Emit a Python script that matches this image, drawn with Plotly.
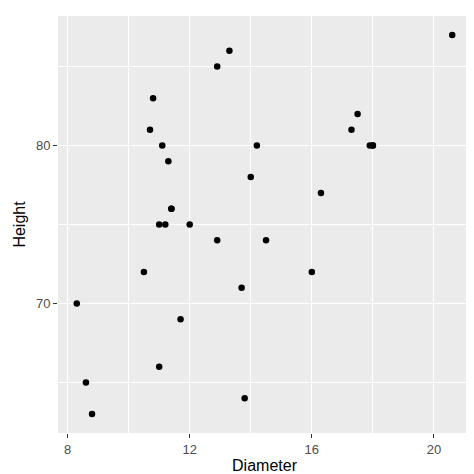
import plotly.graph_objects as go

diameter = [8.3, 8.6, 8.8, 10.5, 10.7, 10.8, 11.0, 11.0, 11.1, 11.2, 11.3, 11.4, 11.4, 11.7, 12.0, 12.9,
            12.9, 13.3, 13.7, 13.8, 14.0, 14.2, 14.5, 16.0, 16.3, 17.3, 17.5, 17.9, 18.0, 18.0, 20.6]
height = [70, 65, 63, 72, 81, 83, 66, 75, 80, 75, 79, 76, 76, 69, 75, 74,
          85, 86, 71, 64, 78, 80, 74, 72, 77, 81, 82, 80, 80, 80, 87]

fig = go.Figure(go.Scatter(x=diameter, y=height, mode="markers",
                           marker=dict(color="black", size=6.5), showlegend=False))

ax = dict(showline=False, zeroline=False, ticks="outside", ticklen=4, tickcolor="#333333",
          gridcolor="white", gridwidth=1.1, automargin=False,
          tickfont=dict(family="Liberation Sans, Arial", size=13, color="#4d4d4d"),
          title_font=dict(family="Liberation Sans, Arial", size=16, color="black"),
          minor=dict(showgrid=True, gridcolor="white", gridwidth=0.5))
fig.update_xaxes(ax, range=[7.685, 21.215], tickvals=[8, 12, 16, 20], minor_dtick=2,
                 title_text="Diameter", title_standoff=4)
fig.update_yaxes(ax, range=[61.8, 88.2], tickvals=[70, 80], minor_dtick=5,
                 title_text="Height", title_standoff=6)
fig.update_layout(width=474, height=474, plot_bgcolor="#ebebeb", paper_bgcolor="white",
                  margin=dict(l=50, r=11, t=8, b=49))
fig.write_html("out.html")
